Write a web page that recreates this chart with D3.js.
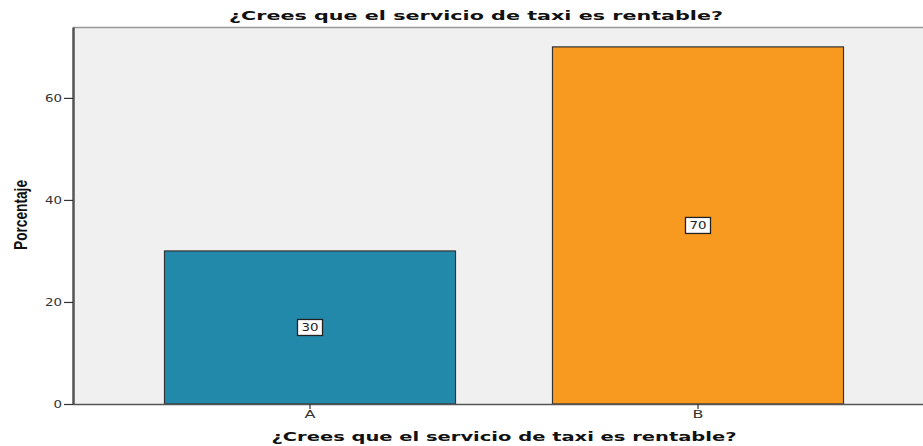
<!DOCTYPE html>
<html><head><meta charset="utf-8">
<script src="https://cdn.jsdelivr.net/npm/d3@7"></script>
<style>body{margin:0;background:#fff}svg{display:block}</style>
</head><body>
<script>
const categories = ["A", "B"];
const values = [30, 70];
const yTicks = [0, 20, 40, 60];
const colors = ["#2389AA", "#F89A1F"];
const title = "¿Crees que el servicio de taxi es rentable?";
const xTitle = "¿Crees que el servicio de taxi es rentable?";
const yTitle = "Porcentaje";

const W = 923, H = 446;
const plot = {left: 73, right: 923, top: 27, bottom: 404};
const svg = d3.select("body").append("svg").attr("width", W).attr("height", H);

const y = d3.scaleLinear().domain([0, 73.9]).range([plot.bottom, plot.top]);
const x = d3.scaleBand().domain(categories).range([116, 892]).paddingInner(0.25).paddingOuter(0.125);

svg.append("rect").attr("x", plot.left).attr("y", plot.top)
  .attr("width", plot.right - plot.left).attr("height", plot.bottom - plot.top)
  .attr("fill", "#F0F0F0");
svg.append("line").attr("x1", plot.left).attr("x2", plot.right).attr("y1", plot.top + 0.5).attr("y2", plot.top + 0.5)
  .attr("stroke", "#999").attr("stroke-width", 1.5);

svg.selectAll("rect.bar").data(values).join("rect").attr("class", "bar")
  .attr("x", (d, i) => x(categories[i]))
  .attr("y", d => y(d))
  .attr("width", x.bandwidth())
  .attr("height", d => y(0) - y(d))
  .attr("fill", (d, i) => colors[i])
  .attr("stroke", "#333").attr("stroke-width", 1.2);

const tickFont = "DejaVu Sans, sans-serif";
// y axis
const yAxis = svg.append("g").attr("transform", `translate(${plot.left},0)`)
  .call(d3.axisLeft(y).tickValues(yTicks).tickSize(9).tickSizeOuter(0).tickPadding(2));
yAxis.select(".domain").attr("stroke", "#555").attr("stroke-width", 2.5);
yAxis.selectAll(".tick line").attr("stroke", "#333").attr("stroke-width", 1.2);
yAxis.selectAll(".tick text").attr("font-family", tickFont)
  .attr("font-size", 10.5).attr("fill", "#333")
  .attr("textLength", d => String(d).length * 8.5).attr("lengthAdjust", "spacingAndGlyphs");

// x axis
const xAxis = svg.append("g").attr("transform", `translate(0,${plot.bottom})`)
  .call(d3.axisBottom(x).tickSize(5).tickSizeOuter(0).tickPadding(2));
xAxis.select(".domain").attr("d", `M${plot.left},0.5H${plot.right}`).attr("stroke", "#555").attr("stroke-width", 1.5);
xAxis.selectAll(".tick line").attr("stroke", "#333").attr("stroke-width", 1.2);
xAxis.selectAll(".tick text").attr("font-family", tickFont)
  .attr("font-size", 10.5).attr("fill", "#333")
  .attr("textLength", 11).attr("lengthAdjust", "spacingAndGlyphs");

// value labels
const lab = svg.selectAll("g.lab").data(values).join("g").attr("class", "lab")
  .attr("transform", (d, i) => `translate(${x(categories[i]) + x.bandwidth() / 2},${y(d / 2)})`);
lab.append("rect").attr("x", -12.5).attr("y", -8).attr("width", 25).attr("height", 16)
  .attr("fill", "#fff").attr("stroke", "#222").attr("stroke-width", 1.3);
lab.append("text").attr("text-anchor", "middle").attr("dy", "0.36em")
  .attr("font-family", tickFont).attr("font-size", 10.5).attr("fill", "#222")
  .attr("textLength", d => String(d).length * 8.5).attr("lengthAdjust", "spacingAndGlyphs")
  .text(d => d);

// titles
svg.append("text").attr("x", 476).attr("y", 20).attr("text-anchor", "middle")
  .attr("font-family", "DejaVu Sans, sans-serif").attr("font-weight", "bold").attr("font-size", 13)
  .attr("textLength", 494).attr("lengthAdjust", "spacingAndGlyphs").attr("fill", "#111")
  .text(title);
svg.append("text").attr("x", 504).attr("y", 441).attr("text-anchor", "middle")
  .attr("font-family", "DejaVu Sans, sans-serif").attr("font-weight", "bold").attr("font-size", 13)
  .attr("textLength", 465).attr("lengthAdjust", "spacingAndGlyphs").attr("fill", "#111")
  .text(xTitle);
svg.append("text").attr("transform", "translate(27,215) rotate(-90)").attr("text-anchor", "middle")
  .attr("font-family", "Liberation Sans Narrow, Liberation Sans, sans-serif").attr("font-weight", "bold").attr("font-size", 18)
  .attr("textLength", 70).attr("lengthAdjust", "spacingAndGlyphs").attr("fill", "#111")
  .text(yTitle);
</script>
</body></html>
